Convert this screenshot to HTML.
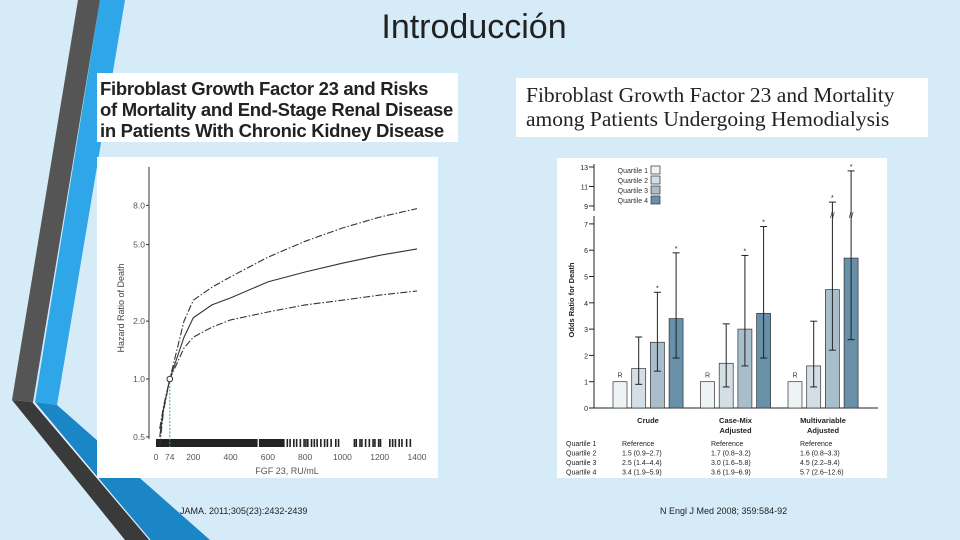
<!DOCTYPE html>
<html><head><meta charset="utf-8"><style>
body{margin:0;width:960px;height:540px;overflow:hidden;background:#d6ebf8;font-family:"Liberation Sans",sans-serif;position:relative}
.abs{position:absolute}
</style></head><body>
<svg class="abs" style="left:0;top:0" width="960" height="540">
<polygon points="35,402 57,405 210,540 150,540" fill="#1b86c6"/>
<polygon points="100,0 125,0 57,405 35,402" fill="#2fa6e8"/>
<polygon points="12,400 33,402 150,540 125,540" fill="#3a3a3a"/>
<polygon points="78,0 100,0 33,402 12,400" fill="#555"/>
<line x1="33" y1="402" x2="150" y2="540" stroke="#e8f4fb" stroke-width="1.2"/>
</svg>
<div class="abs" style="left:0;width:948px;top:8px;text-align:center;font-family:'DejaVu Sans ExtraLight','Liberation Sans',sans-serif;font-size:34px;font-weight:200;color:#222">Introducción</div>

<div class="abs" style="left:97px;top:73px;width:361px;height:69px;background:#fff;font-size:18.5px;font-weight:bold;line-height:21px;color:#222;padding:5px 0 0 3px;box-sizing:border-box;letter-spacing:-0.3px;white-space:nowrap">Fibroblast Growth Factor 23 and Risks<br>of Mortality and End-Stage Renal Disease<br>in Patients With Chronic Kidney Disease</div>

<div class="abs" style="left:516px;top:78px;width:412px;height:59px;background:#fff;font-family:'Liberation Serif',serif;font-size:21.5px;line-height:24px;color:#222;padding:5px 0 0 10px;box-sizing:border-box;white-space:nowrap">Fibroblast Growth Factor 23 and Mortality<br>among Patients Undergoing Hemodialysis</div>

<svg class="abs" id="lc" style="left:0;top:0" width="960" height="540">
<rect x="97" y="157" width="341" height="321" fill="#fff"/>
</svg>
<svg class="abs" id="rc" style="left:0;top:0" width="960" height="540">
<rect x="557" y="158" width="330" height="320" fill="#fff"/>
</svg>

<div class="abs" style="left:180px;top:506px;font-size:9px;color:#222">JAMA. 2011;305(23):2432-2439</div>
<div class="abs" style="left:660px;top:506px;font-size:9px;color:#222">N Engl J Med 2008; 359:584-92</div>

<script>
const NS='http://www.w3.org/2000/svg';
function mk(p,t,a,txt){const e=document.createElementNS(NS,t);for(const k in a)e.setAttribute(k,a[k]);if(txt!==undefined)e.textContent=txt;p.appendChild(e);return e;}

// ---------- Left chart data ----------
const fgfX=[20,40,74,150,200,300,400,600,800,1000,1200,1400];
const hrCentral=[0.5,0.7,1.0,1.65,2.08,2.43,2.64,3.2,3.6,4.0,4.4,4.75];
const hrUpper=[0.45,0.68,1.0,2.0,2.57,3.0,3.4,4.3,5.2,6.1,6.95,7.7];
const hrLower=[0.55,0.72,1.0,1.45,1.65,1.86,2.03,2.23,2.43,2.57,2.73,2.87];
const yTicksL=[0.5,1.0,2.0,5.0,8.0];
const xTicksL=[0,74,200,400,600,800,1000,1200,1400];
const rugTicks=[700,715,735,750,770,790,800,810,830,845,860,880,900,915,935,960,975,1060,1070,1090,1100,1120,1140,1160,1170,1190,1200,1250,1265,1280,1300,1315,1340,1360];
const lx=v=>156+v*(261/1400);
const ly=v=>379-83.5*Math.log(v);
const L=document.getElementById('lc');
let e=mk(L,'line',{x1:149,y1:167,x2:149,y2:439,stroke:'#333','stroke-width':1});


yTicksL.forEach(v=>{
 let t=mk(L,'line',{x1:146,x2:149,y1:ly(v),y2:ly(v),stroke:'#333'});
 
 
 let l=mk(L,'text',{x:145,y:ly(v)+3,'text-anchor':'end','font-size':8.5,fill:'#555'},v.toFixed(1));
 
 
});
xTicksL.forEach(v=>{
 let l=mk(L,'text',{x:lx(v),y:460,'text-anchor':'middle','font-size':8.5,fill:'#555'},String(v));
 
 
});
e=mk(L,'text',{x:287,y:474,'text-anchor':'middle','font-size':9,fill:'#555'},'FGF 23, RU/mL');


e=mk(L,'text',{x:0,y:0,transform:'translate(124,308) rotate(-90)','text-anchor':'middle','font-size':9,fill:'#444'},'Hazard Ratio of Death');


// rug
e=mk(L,'rect',{x:lx(0),y:439,width:lx(545)-lx(0),height:8,fill:'#222'});


e=mk(L,'rect',{x:lx(552),y:439,width:lx(690)-lx(552),height:8,fill:'#222'});


rugTicks.forEach(v=>{
 let t=mk(L,'rect',{x:lx(v),y:439,width:1.6,height:8,fill:'#222'});
 
 
});
e=mk(L,'line',{x1:lx(74),x2:lx(74),y1:ly(1),y2:447,stroke:'#3a9fc0','stroke-dasharray':'2,1.5'});


function pathOf(xs,ys){return xs.map((x,i)=>(i?'L':'M')+lx(x).toFixed(1)+','+ly(ys[i]).toFixed(1)).join(' ');}
[[hrUpper,'upper-ci-line','7,2,1.5,2'],[hrCentral,'hazard-ratio-line','none'],[hrLower,'lower-ci-line','7,2,1.5,2']].forEach(([d,n,da])=>{
 let p=mk(L,'path',{d:pathOf(fgfX,d),fill:'none',stroke:'#333','stroke-width':1.1,'stroke-dasharray':da});
 
 
});
e=mk(L,'circle',{cx:lx(74),cy:ly(1),r:2.8,fill:'#fff',stroke:'#333','stroke-width':1});



// ---------- Right chart data ----------
const groups=['Crude','Case-Mix|Adjusted','Multivariable|Adjusted'];
const orQ1=[1,1,1];
const orQ2=[1.5,1.7,1.6];
const orQ3=[2.5,3.0,4.5];
const orQ4=[3.4,3.6,5.7];
const loQ2=[0.9,0.8,0.8], hiQ2=[2.7,3.2,3.3];
const loQ3=[1.4,1.6,2.2], hiQ3=[4.4,5.8,9.4];
const loQ4=[1.9,1.9,2.6], hiQ4=[5.9,6.9,12.6];
const yTicksR=[0,1,2,3,4,5,6,7,9,11,13];
const qColors=['#eef3f6','#d3dee5','#a8bfcb','#6890a9'];
const ry=v=>v<=7?408-26.3*v:(v>=9?206-(v-9)*9.75:224-(v-7)*9);
const R=document.getElementById('rc');
e=mk(R,'line',{x1:594,y1:164,x2:594,y2:408,stroke:'#222','stroke-width':1});


e=mk(R,'line',{x1:589,y1:408,x2:878,y2:408,stroke:'#222','stroke-width':1});


e=mk(R,'rect',{x:590,y:211,width:8,height:5,fill:'#fff'});


yTicksR.forEach(v=>{
 let t=mk(R,'line',{x1:589,x2:594,y1:ry(v),y2:ry(v),stroke:'#222'});
 
 
 let l=mk(R,'text',{x:588,y:ry(v)+3,'text-anchor':'end','font-size':7,fill:'#222'},String(v));
 
 
});
e=mk(R,'text',{x:0,y:0,transform:'translate(574,300) rotate(-90)','text-anchor':'middle','font-size':7.5,'font-weight':'bold',fill:'#222'},'Odds Ratio for Death');


const vals=[orQ1,orQ2,orQ3,orQ4];
const los=[null,loQ2,loQ3,loQ4], his=[null,hiQ2,hiQ3,hiQ4];
groups.forEach((g,gi)=>{
 const gx=613+gi*87.5;
 vals.forEach((arr,qi)=>{
  const x=gx+qi*18.7, v=arr[gi];
  let b=mk(R,'rect',{x:x,y:ry(v),width:14,height:408-ry(v),fill:qColors[qi],stroke:'#333','stroke-width':0.7});
  
  
  if(qi===0){let r=mk(R,'text',{x:x+7,y:ry(v)-4,'text-anchor':'middle','font-size':7,fill:'#333'},'R');
   
   }
  else{
   const lo=los[qi][gi], hi=his[qi][gi], cx=x+7;
   let eb=mk(R,'line',{x1:cx,x2:cx,y1:ry(lo),y2:ry(hi),stroke:'#222','stroke-width':1});
   
   
   [lo,hi].forEach(c=>{let cp=mk(R,'line',{x1:cx-3.5,x2:cx+3.5,y1:ry(c),y2:ry(c),stroke:'#222','stroke-width':1});
    
    });
   if(hi>7){let bk=mk(R,'text',{x:cx,y:ry(8)+3,'text-anchor':'middle','font-size':8,fill:'#222'},'//');
    
    }
   if(qi>1){let s=mk(R,'text',{x:cx,y:ry(hi)-2,'text-anchor':'middle','font-size':7,fill:'#222'},'*');
    
    }
  }
 });
 g.split('|').forEach((line,li)=>{
  let t=mk(R,'text',{x:gx+35,y:423+li*10,'text-anchor':'middle','font-size':7.5,'font-weight':'bold',fill:'#222'},line);
  
  
 });
});
// legend
['Quartile 1','Quartile 2','Quartile 3','Quartile 4'].forEach((q,i)=>{
 let t=mk(R,'text',{x:648,y:173+i*10,'text-anchor':'end','font-size':7,fill:'#333'},q);
 
 
 let s=mk(R,'rect',{x:651,y:166+i*10,width:9,height:8,fill:qColors[i],stroke:'#333','stroke-width':0.7});
 
 
});
// table
const tRows=['Quartile 1','Quartile 2','Quartile 3','Quartile 4'];
const tCols=[['Reference','1.5 (0.9\u20132.7)','2.5 (1.4\u20134.4)','3.4 (1.9\u20135.9)'],['Reference','1.7 (0.8\u20133.2)','3.0 (1.6\u20135.8)','3.6 (1.9\u20136.9)'],['Reference','1.6 (0.8\u20133.3)','4.5 (2.2\u20139.4)','5.7 (2.6\u201312.6)']];
tRows.forEach((r,i)=>{
 let t=mk(R,'text',{x:566,y:446+i*9.5,'font-size':7,fill:'#222'},r);
 
 
 tCols.forEach((c,ci)=>{
  let v=mk(R,'text',{x:622+ci*89,y:446+i*9.5,'font-size':7,fill:'#222'},c[i]);
  
  
 });
});
</script>
</body></html>
